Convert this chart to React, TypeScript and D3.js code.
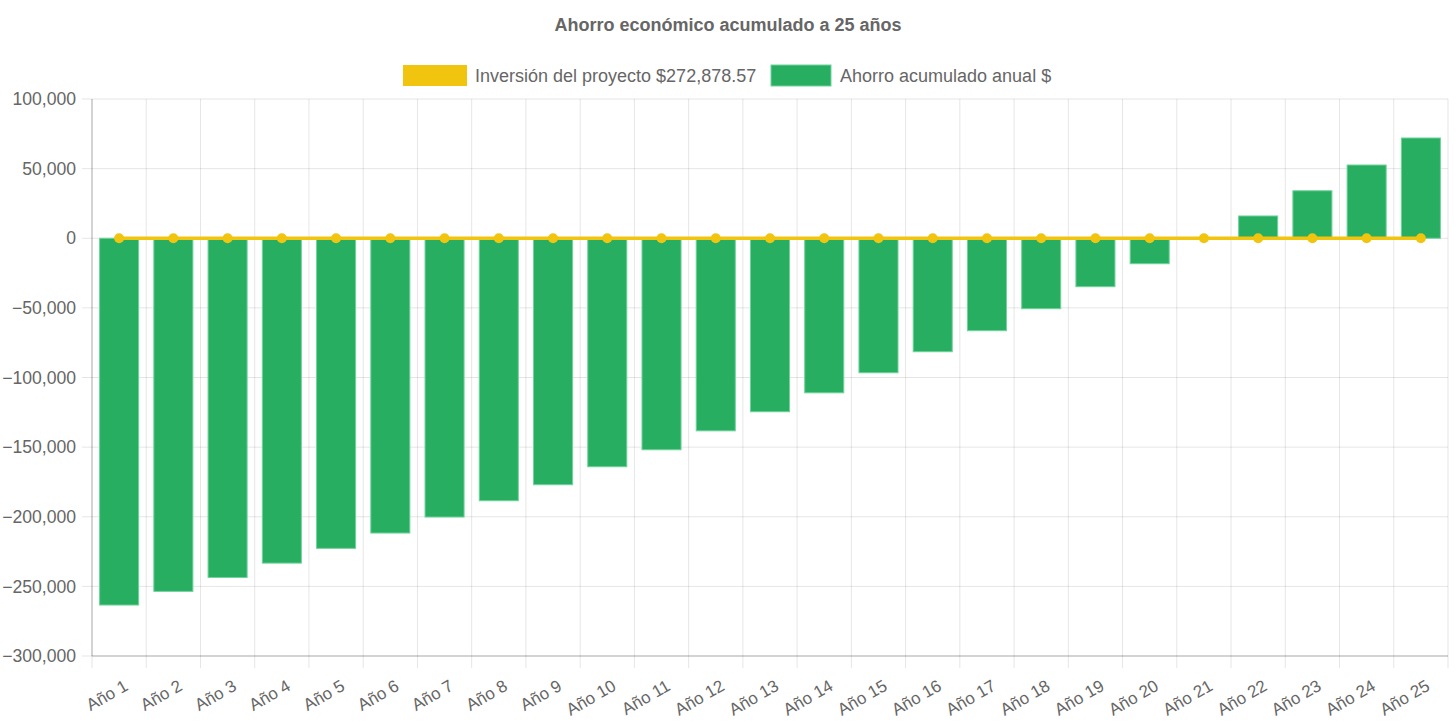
import React from "react";
import * as d3 from "d3";

const categories = Array.from({ length: 25 }, (_, i) => `Año ${i + 1}`);
const ahorro = [
  -263400, -253600, -243600, -233300, -222700, -211700, -200200, -188500, -177000, -164100,
  -151900, -138300, -124600, -111000, -96600, -81500, -66400, -50600, -34800, -18300,
  -500, 16000, 34100, 52600, 72000,
];
const inversion = Array.from({ length: 25 }, () => 0);
const yTicks = [100000, 50000, 0, -50000, -100000, -150000, -200000, -250000, -300000];
const title = "Ahorro económico acumulado a 25 años";
const legendLabels = ["Inversión del proyecto $272,878.57", "Ahorro acumulado anual $"];

const W = 1456;
const H = 727;
const left = 92;
const right = 1448;
const top = 99;
const bottom = 656;
const FONT = "'Liberation Sans', Arial, Helvetica, sans-serif";
const GREEN = "#27ae60";
const YELLOW = "#f1c40f";
const TXT = "#666";

export default function App() {
  const x = d3.scaleBand<string>().domain(categories).range([left, right]).paddingInner(0).paddingOuter(0);
  const y = d3.scaleLinear().domain([-300000, 100000]).range([bottom, top]);
  const bw = x.bandwidth();
  const barW = bw * 0.72;
  const fmt = d3.format(",");
  const line = d3
    .line<number>()
    .x((_, i) => (x(categories[i]) as number) + bw / 2)
    .y((d) => y(d));

  const boundaries = categories.map((c) => x(c) as number).concat([right]);

  return (
    <svg width={W} height={H} style={{ position: "absolute", left: 0, top: 0 }} fontFamily={FONT}>
      <text x={728} y={31} textAnchor="middle" fontWeight="bold" fontSize={18} fill={TXT}>
        {title}
      </text>
      {/* legend */}
      <g>
        <rect x={403} y={65} width={64} height={21} fill={YELLOW} />
        <text x={475} y={81.5} fontSize={18} fill={TXT}>{legendLabels[0]}</text>
        <rect x={771} y={65} width={60} height={21} fill={GREEN} stroke="#6fd39b" strokeWidth={1} />
        <text x={840} y={81.5} fontSize={18} fill={TXT}>{legendLabels[1]}</text>
      </g>
      {/* horizontal grid */}
      {yTicks.map((t) => (
        <g key={t}>
          <line x1={left - 10} x2={right} y1={y(t)} y2={y(t)} stroke="rgba(0,0,0,0.1)" />
          <text x={76} y={y(t)} dy="0.35em" textAnchor="end" fontSize={17.6} fill={TXT}>
            {fmt(t)}
          </text>
        </g>
      ))}
      {/* vertical grid */}
      {boundaries.map((b, i) => (
        <line key={i} x1={b} x2={b} y1={top} y2={bottom + 12} stroke="rgba(0,0,0,0.1)" />
      ))}
      <line x1={left} x2={left} y1={top} y2={bottom} stroke="rgba(0,0,0,0.25)" />
      <line x1={left} x2={right} y1={bottom} y2={bottom} stroke="rgba(0,0,0,0.25)" />
      {/* bars */}
      {ahorro.map((v, i) => {
        const cx = (x(categories[i]) as number) + bw / 2;
        const y0 = y(0);
        const y1 = y(v);
        return (
          <rect
            key={i}
            x={cx - barW / 2}
            y={Math.min(y0, y1)}
            width={barW}
            height={Math.abs(y1 - y0)}
            fill={GREEN}
            stroke="#6fd39b"
            strokeWidth={1}
          />
        );
      })}
      {/* line */}
      <path d={line(inversion) || ""} fill="none" stroke={YELLOW} strokeWidth={3.5} />
      {inversion.map((v, i) => (
        <circle key={i} cx={(x(categories[i]) as number) + bw / 2} cy={y(v)} r={5} fill={YELLOW} />
      ))}
      {/* x labels */}
      {categories.map((c) => {
        const cx = (x(c) as number) + bw / 2;
        return (
          <text
            key={c}
            transform={`translate(${cx + 7},${bottom + 28}) rotate(-30)`}
            textAnchor="end"
            dy="0.35em"
            fontSize={17}
            fill={TXT}
          >
            {c}
          </text>
        );
      })}
    </svg>
  );
}
